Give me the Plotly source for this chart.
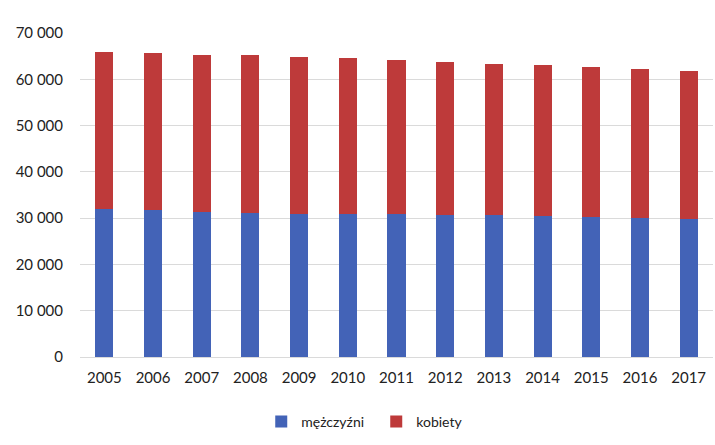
import plotly.graph_objects as go

# lata i liczby osób
years = ["2005", "2006", "2007", "2008", "2009", "2010", "2011",
         "2012", "2013", "2014", "2015", "2016", "2017"]
men = [32000, 31800, 31400, 31100, 30900, 30900, 30900,
       30700, 30600, 30450, 30250, 30000, 29800]
women = [33950, 33800, 33950, 34050, 33850, 33750, 33250,
         33100, 32800, 32600, 32450, 32200, 32050]

fig = go.Figure()
fig.add_trace(go.Bar(x=years, y=men, name="mężczyźni",
                     marker=dict(color="#4363B7", line=dict(width=0))))
fig.add_trace(go.Bar(x=years, y=women, name="kobiety",
                     marker=dict(color="#BE3A3A", line=dict(width=0))))

fig.update_layout(
    barmode="stack",
    bargap=0.63,
    width=715, height=445,
    margin=dict(l=80, r=2, t=33, b=88),
    paper_bgcolor="white", plot_bgcolor="white",
    separators=", ",
    font=dict(family="Lato, 'Open Sans', sans-serif", size=15, color="#222"),
    legend=dict(orientation="h", x=0.468, xanchor="center", y=-0.2, yanchor="middle",
                font=dict(size=14), itemwidth=30, traceorder="normal",
                entrywidth=70),
)
fig.update_xaxes(showline=False, ticks="", tickfont=dict(size=15),
                 ticklabelstandoff=10)
fig.update_yaxes(range=[0, 70000], dtick=10000, tickformat=",d",
                 showgrid=True, gridcolor="#DADADA", gridwidth=1,
                 zeroline=True, zerolinecolor="#DADADA", zerolinewidth=1,
                 ticks="", ticklabelstandoff=16)

fig.write_html("out.html", config={"displayModeBar": False},
               post_script="document.body.style.margin='0';")
